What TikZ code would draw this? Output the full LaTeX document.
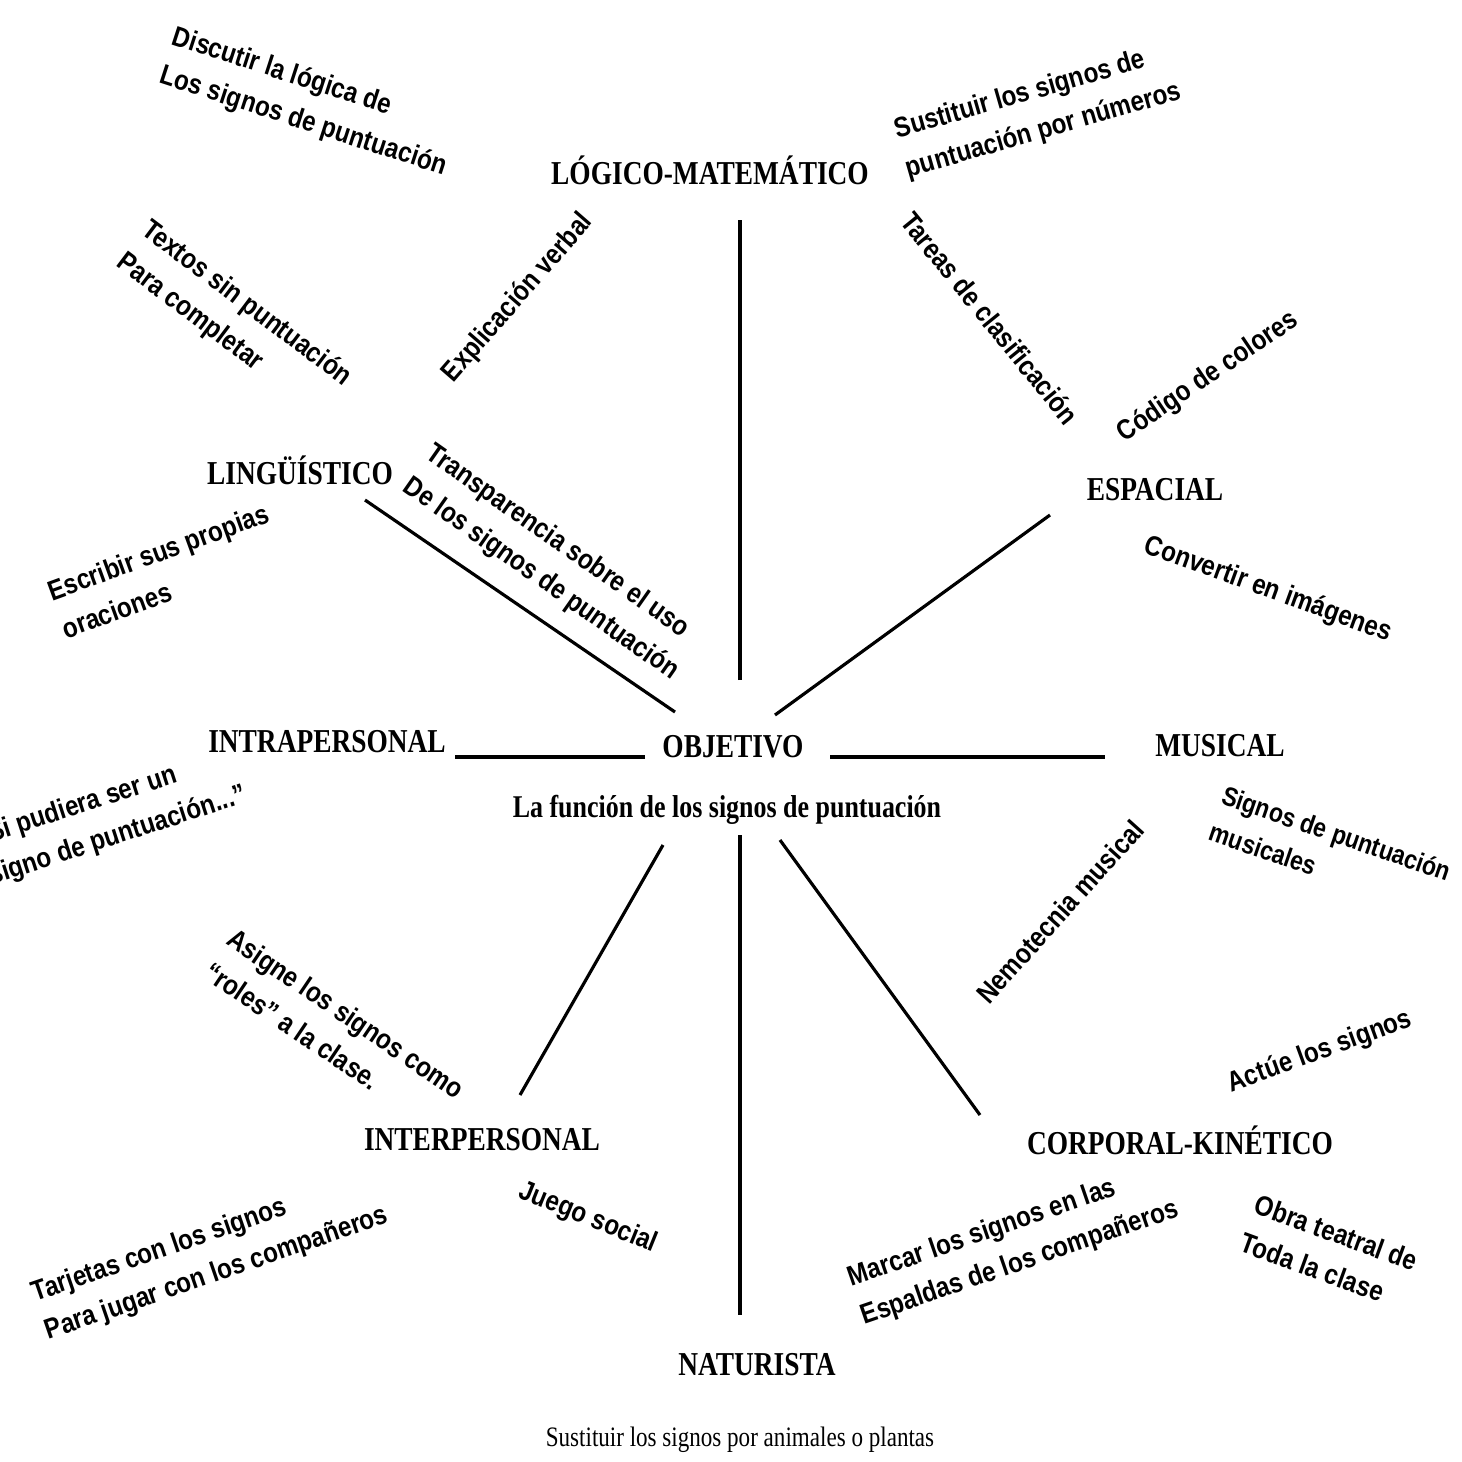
\documentclass[tikz,border=0pt]{standalone}
\usepackage{fontspec}
\setmainfont{Liberation Serif}
\newfontfamily\catfont[FakeStretch=0.82]{Liberation Serif}
\newfontfamily\notefont[FakeStretch=0.86]{Liberation Sans}

\begin{document}
\begin{tikzpicture}[x=0.01cm, y=-0.01cm,
  inteligencia/.style={font=\catfont\bfseries\fontsize{9.5}{11}\selectfont, inner sep=1pt},
  nota/.style={font=\notefont\bfseries\fontsize{8}{11.5}\selectfont, align=left, inner sep=1pt},
  rayo/.style={line width=0.9pt}]
  \useasboundingbox (0,0) rectangle (1462,1462);

  % centro
  \node[inteligencia] (objetivo) at (733,747) {OBJETIVO};
  \node[inteligencia, font=\catfont\bfseries\fontsize{9}{11}\selectfont] (funcion) at (727,810) {La función de los signos de puntuación};

  % las ocho inteligencias
  \node[inteligencia] (logico) at (710,170) {LÓGICO-MATEMÁTICO};
  \node[inteligencia] (linguistico) at (300,470) {LINGÜÍSTICO};
  \node[inteligencia] (espacial) at (1155,490) {ESPACIAL};
  \node[inteligencia] (intra) at (327,742) {INTRAPERSONAL};
  \node[inteligencia] (musical) at (1220,746) {MUSICAL};
  \node[inteligencia] (inter) at (482,1140) {INTERPERSONAL};
  \node[inteligencia] (corporal) at (1180,1140) {CORPORAL-KINÉTICO};
  \node[inteligencia] (naturista) at (757,1365) {NATURISTA};
  \node[font=\catfont\fontsize{8}{10}\selectfont] (plantas) at (740,1440) {Sustituir los signos por animales o plantas};

  % extremos de los rayos
  \coordinate (o-log) at (740,680);   \coordinate (c-log) at (740,220);
  \coordinate (o-esp) at (775,715);   \coordinate (c-esp) at (1050,515);
  \coordinate (o-lin) at (675,712);   \coordinate (c-lin) at (365,500);
  \coordinate (o-intra) at (645,757); \coordinate (c-intra) at (455,757);
  \coordinate (o-mus) at (830,757);   \coordinate (c-mus) at (1105,757);
  \coordinate (o-inter) at (663,845); \coordinate (c-inter) at (520,1095);
  \coordinate (o-nat) at (740,835);   \coordinate (c-nat) at (740,1315);
  \coordinate (o-cor) at (780,840);   \coordinate (c-cor) at (980,1115);

  % rayos
  \draw[rayo] (o-log) -- (c-log);
  \draw[rayo] (o-esp) -- (c-esp);
  \draw[rayo] (o-lin) -- (c-lin);
  \draw[rayo] (o-intra) -- (c-intra);
  \draw[rayo] (o-mus) -- (c-mus);
  \draw[rayo] (o-inter) -- (c-inter);
  \draw[rayo] (o-nat) -- (c-nat);
  \draw[rayo] (o-cor) -- (c-cor);

  % actividades (notas inclinadas)
  \node[nota, rotate=-18, anchor=west] (discutir) at (163,55) {Discutir la lógica de\\Los signos de puntuación};
  \node[nota, rotate=16, anchor=west] (numeros) at (897,152) {Sustituir los signos de\\puntuación por números};
  \node[nota, rotate=-37, anchor=west] (textos) at (129,241) {Textos sin puntuación\\Para completar};
  \node[nota, rotate=49] (explicacion) at (518,298) {Explicación verbal};
  \node[nota, rotate=-51] (tareas) at (990,318) {Tareas de clasificación};
  \node[nota, rotate=34] (codigo) at (1208,377) {Código de colores};
  \node[nota, rotate=-35, anchor=west] (transparencia) at (414,466) {Transparencia sobre el uso\\De los signos de puntuación};
  \node[nota, rotate=20, anchor=west] (escribir) at (52,612) {Escribir sus propias\\oraciones};
  \node[nota, rotate=-20] (imagenes) at (1268,590) {Convertir en imágenes};
  \node[nota, rotate=18, anchor=west] (pudiera) at (-20,860) {“Si pudiera ser un\\signo de puntuación...”};
  \node[nota, rotate=-19, anchor=west, font=\notefont\bfseries\fontsize{7.6}{11}\selectfont] (musicales) at (1213,811) {Signos de puntuación\\musicales};
  \node[nota, rotate=48] (nemotecnia) at (1060,912) {Nemotecnia musical};
  \node[nota, rotate=20] (actue) at (1320,1052) {Actúe los signos};
  \node[nota, rotate=-34, anchor=west] (asigne) at (216,950) {Asigne los signos como\\“roles” a la clase.};
  \node[nota, rotate=-22] (juego) at (588,1218) {Juego social};
  \node[nota, rotate=19, anchor=west] (tarjetas) at (36,1315) {Tarjetas con los signos\\Para jugar con los compañeros};
  \node[nota, rotate=19, anchor=west] (marcar) at (852,1300) {Marcar los signos en las\\Espaldas de los compañeros};
  \node[nota, rotate=-20, anchor=west] (obra) at (1245,1221) {Obra teatral de\\Toda la clase};
\end{tikzpicture}
\end{document}
